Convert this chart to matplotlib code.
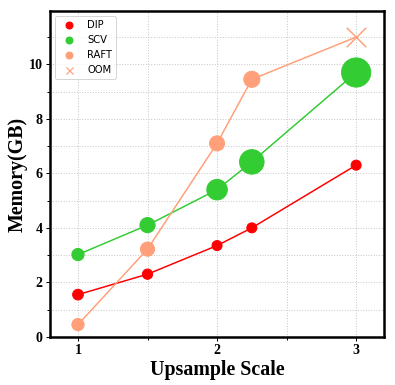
import matplotlib
matplotlib.use("Agg")
import matplotlib.pyplot as plt
from matplotlib.lines import Line2D
from matplotlib.ticker import MultipleLocator

scales = [1, 1.5, 2, 2.25, 3]
dip = [1.55, 2.3, 3.35, 4.0, 6.3]
scv = [3.02, 4.1, 5.4, 6.42, 9.7]
raft = [0.45, 3.22, 7.1, 9.45]
oom_x = [3]
oom_y = [11.0]

dip_sizes = [115, 105, 100, 100, 100]
scv_sizes = [150, 230, 420, 600, 850]
raft_sizes = [150, 200, 225, 260]

c_dip = "#ff0000"
c_scv = "#33cc33"
c_raft = "#ffa07a"

fig = plt.figure(figsize=(395/72, 385/72), dpi=72)
ax = fig.add_axes([0.127, 0.125, 0.845, 0.846])

ax.plot(scales, dip, color=c_dip, lw=1.5, zorder=2)
ax.scatter(scales, dip, s=dip_sizes, color=c_dip, zorder=3)
ax.plot(scales, scv, color=c_scv, lw=1.5, zorder=2)
ax.scatter(scales, scv, s=scv_sizes, color=c_scv, zorder=3)
ax.plot(scales[:4] + oom_x, raft + oom_y, color=c_raft, lw=1.5, zorder=2)
ax.scatter(scales[:4], raft, s=raft_sizes, color=c_raft, zorder=3)
ax.scatter(oom_x, oom_y, s=380, marker="x", color=c_raft, linewidths=1.5, zorder=3)

ax.set_xlim(0.8, 3.2)
ax.set_ylim(0, 11.95)
ax.xaxis.set_major_locator(MultipleLocator(1))
ax.xaxis.set_minor_locator(MultipleLocator(0.5))
ax.yaxis.set_major_locator(MultipleLocator(2))
ax.yaxis.set_minor_locator(MultipleLocator(1))
ax.grid(True, which="both", color="#c8c8c8", linestyle=":", linewidth=1, zorder=0)
ax.set_axisbelow(True)

for sp in ax.spines.values():
    sp.set_linewidth(2.5)
ax.tick_params(which="both", direction="out", width=1, color="black")
ax.tick_params(which="major", length=4)
ax.tick_params(which="minor", length=3)

for lab in ax.get_xticklabels() + ax.get_yticklabels():
    lab.set_fontfamily("Liberation Serif")
    lab.set_fontweight("bold")
    lab.set_fontsize(14)

ax.set_xlabel("Upsample Scale", fontfamily="Liberation Serif", fontweight="bold", fontsize=20, labelpad=3)
ax.set_ylabel("Memory(GB)", fontfamily="Liberation Serif", fontweight="bold", fontsize=20, labelpad=1)

handles = [
    Line2D([], [], marker="o", linestyle="none", color=c_dip, markersize=7),
    Line2D([], [], marker="o", linestyle="none", color=c_scv, markersize=7),
    Line2D([], [], marker="o", linestyle="none", color=c_raft, markersize=7),
    Line2D([], [], marker="x", linestyle="none", color=c_raft, markersize=7, markeredgewidth=1.2),
]
ax.legend(handles, ["DIP", "SCV", "RAFT", "OOM"], loc="upper left", fontsize=10, framealpha=0.8)

fig.savefig("out.png", dpi=72)
